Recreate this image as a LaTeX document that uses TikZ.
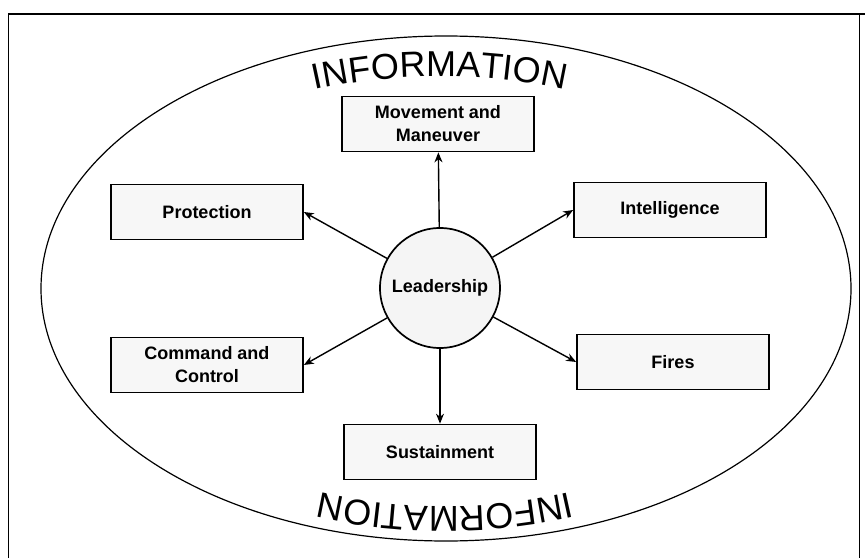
\documentclass[tikz,border=0pt]{standalone}
\usepackage{fontspec}
\setmainfont{Liberation Sans}
\usetikzlibrary{decorations.text,arrows.meta}

\begin{document}
\begin{tikzpicture}[x=1pt,y=1pt,
		func/.style={draw, line width=1.7pt, fill=gray!6, minimum width=192pt, minimum height=55pt,
			align=center, font=\fontsize{18}{23}\selectfont\bfseries},
		hub/.style={draw, circle, line width=1.7pt, fill=gray!8, minimum size=120pt, inner sep=0pt,
			font=\fontsize{18}{23}\selectfont\bfseries},
		link/.style={-{Stealth[length=10pt,width=8pt]}, line width=1.4pt}]
		\useasboundingbox (0,0) rectangle (865,558);
		\draw[line width=1pt] (8,0) -- (8,544);
		\draw[line width=2.5pt] (8,544) -- (865,544);
		\draw[line width=1pt] (859,544) -- (859,0);

		\draw[line width=1.2pt] (446,269.5) ellipse [x radius=405, y radius=252.5];
		\path[decorate, decoration={text along path, text align=center,
			text={|\fontsize{36}{36}\selectfont|INFORMATION}}]
			(440,269.5) ++(125:356 and 212) arc[start angle=125, end angle=55, x radius=356, y radius=212];
		\path[decorate, decoration={text along path, text align=center,
			text={|\fontsize{36}{36}\selectfont|INFORMATION}}]
			(445,269.5) ++(-55:356 and 218) arc[start angle=-55, end angle=-125, x radius=356, y radius=218];

		\node[hub] (leader) at (440,270) {Leadership};
		\node[func] (move) at (438,434) {Movement and\\Maneuver};
		\node[func] (prot) at (207,346) {Protection};
		\node[func] (intel) at (670,348) {Intelligence};
		\node[func] (cmd) at (207,193) {Command and\\Control};
		\node[func] (fires) at (673,196) {Fires};
		\node[func] (sust) at (440,106) {Sustainment};

		\draw[link] (leader) -- (move);
		\draw[link] (leader) -- (prot.east);
		\draw[link] (leader) -- (intel.west);
		\draw[link] (leader) -- (cmd.east);
		\draw[link] (leader) -- (fires.west);
		\draw[link] (leader) -- (sust);
	\end{tikzpicture}
\end{document}
